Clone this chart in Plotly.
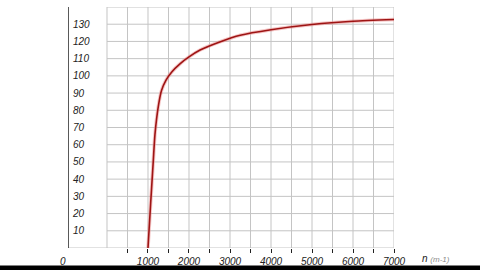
import plotly.graph_objects as go

# Data
n_vals = [1000, 1065, 1130, 1170, 1250, 1330, 1440, 1580, 1780, 2000, 2270, 2750, 3250, 4000, 5000, 6000, 7000]
y_vals = [0, 26, 51, 66, 82, 91.5, 97.5, 102.3, 107, 111, 115, 119.7, 123.6, 126.8, 129.8, 131.7, 132.7]

x_grid = list(range(0, 7001, 500))
x_ticks = list(range(500, 7001, 500))
x_ticktext = [str(v) if v % 1000 == 0 else "" for v in x_ticks]
y_grid = list(range(0, 141, 10))
y_ticks = list(range(10, 131, 10))

XMIN = -951
FONT = "Liberation Sans Narrow, Liberation Sans, Arial"
GRID = "#c4c4c4"

fig = go.Figure()

shapes = []
for gx in x_grid:
    shapes.append(dict(type="line", xref="x", yref="y", x0=gx, x1=gx, y0=0, y1=140,
                       line=dict(color=GRID, width=1), layer="below"))
for gy in y_grid:
    shapes.append(dict(type="line", xref="x", yref="y", x0=(XMIN if gy == 0 else 0), x1=7000, y0=gy, y1=gy,
                       line=dict(color=GRID, width=1), layer="below"))
shapes.append(dict(type="line", xref="x", yref="y", x0=XMIN, x1=XMIN, y0=0, y1=140,
                   line=dict(color="#222222", width=1.5)))
# black bar at the bottom
shapes.append(dict(type="rect", xref="paper", yref="paper", x0=-0.3, x1=1.4, y0=-0.2, y1=-0.0726,
                   fillcolor="black", line=dict(width=0), layer="below"))

fig.add_trace(go.Scatter(x=n_vals, y=y_vals, mode="lines",
                         line=dict(color="rgba(235,140,140,0.5)", width=3.5, shape="spline", smoothing=0.6),
                         hoverinfo="skip", showlegend=False))
fig.add_trace(go.Scatter(x=n_vals, y=y_vals, mode="lines",
                         line=dict(color="#9e1414", width=1.6, shape="spline", smoothing=0.6),
                         showlegend=False))

fig.update_layout(
    width=480, height=270,
    margin=dict(l=68, r=86, t=7, b=22),
    paper_bgcolor="white", plot_bgcolor="rgba(0,0,0,0)",
    shapes=shapes,
    showlegend=False,
    xaxis=dict(range=[XMIN, 7000], tickvals=x_ticks, ticktext=x_ticktext, showgrid=False, zeroline=False,
               ticks="outside", ticklen=4, tickwidth=1, tickcolor="#222222", showline=False,
               ticklabelstandoff=0, automargin=False,
               tickfont=dict(family=FONT, size=10, color="#222222", style="italic")),
    yaxis=dict(range=[0, 140], tickvals=y_ticks, showgrid=False, zeroline=False, showline=False,
               ticks="", ticklabelposition="inside", ticklabelstandoff=2, automargin=False,
               tickfont=dict(family=FONT, size=10, color="#222222", style="italic")),
    annotations=[
        dict(xref="x", yref="paper", x=XMIN, y=0, xanchor="center", yanchor="top", xshift=-5, yshift=-6,
             text="0", showarrow=False, font=dict(family=FONT, size=10, color="#222222", style="italic")),
        dict(xref="paper", yref="paper", x=1.08, y=0, xanchor="left", yanchor="top", yshift=-3,
             text="n <span style='color:#8a8a8a;font-size:8px'>(m-1)</span>", showarrow=False,
             font=dict(family=FONT, size=10, color="#222222", style="italic")),
    ],
)

fig.write_html("out.html")
